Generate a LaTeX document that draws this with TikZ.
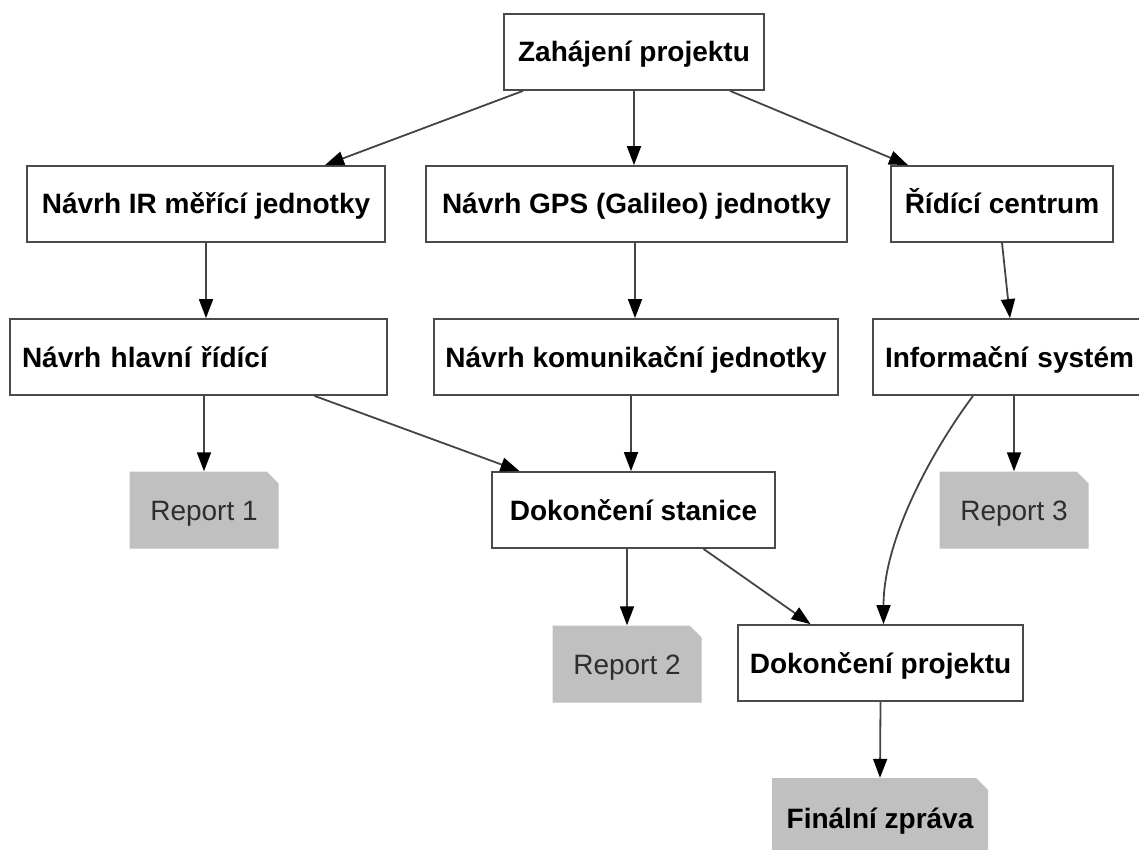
\documentclass[tikz,border=0pt]{standalone}
\usepackage{fontspec}
\setmainfont{Liberation Sans}
\usetikzlibrary{arrows.meta}
\definecolor{boxline}{HTML}{4A4A4A}
\definecolor{edgeline}{HTML}{444444}
\definecolor{repgray}{HTML}{C0C0C0}
\definecolor{reptext}{HTML}{2E2E2E}
\begin{document}
\begin{tikzpicture}[x=1pt,y=-1pt,
  task/.style={rectangle, draw=boxline, line width=1.8pt, fill=white,
    minimum height=76pt, inner sep=0pt, text height=26pt, text depth=6pt,
    font=\fontsize{28}{34}\selectfont\bfseries, text=black},
  lefttask/.style={task, align=left, inner xsep=12pt},
  report/.style={rectangle, fill=white, minimum height=77pt, inner sep=0pt,
    text height=26pt, text depth=6pt,
    font=\fontsize{28}{34}\selectfont, text=reptext,
    path picture={\fill[repgray] (path picture bounding box.south west)
      -- (path picture bounding box.north west)
      -- ([xshift=-12pt]path picture bounding box.north east)
      -- ([yshift=-12pt]path picture bounding box.north east)
      -- (path picture bounding box.south east) -- cycle;}},
  flow/.style={draw=edgeline, line width=1.8pt,
    -{Triangle[length=19pt,width=14pt,color=black]}}
]
\useasboundingbox (0,0) rectangle (1139,850);
\clip (0,0) rectangle (1139,850);

% row 0
\node[task, minimum width=260pt] (zah) at (634,52) {Zahájení projektu};
% row 1
\node[task, minimum width=358pt] (ir) at (206,204) {Návrh IR měřící jednotky};
\node[task, minimum width=421pt] (gps) at (636.5,204) {Návrh GPS (Galileo) jednotky};
\node[task, minimum width=222pt] (rc) at (1002,204) {Řídící centrum};
% row 2
\node[lefttask, text width=353pt] (hl) at (198.5,357) {Návrh hlavní řídící};
\node[task, minimum width=404pt] (kom) at (636,357) {Návrh komunikační jednotky};
\node[lefttask, text width=254pt] (info) at (1012,357) {Informační systém};
% row 3
\node[report, minimum width=149pt] (r1) at (204,510) {Report 1};
\node[task, minimum width=283pt] (ds) at (633.5,510) {Dokončení stanice};
\node[report, minimum width=149pt] (r3) at (1014,510) {Report 3};
% row 4
\node[report, minimum width=149pt] (r2) at (627,664) {Report 2};
\node[task, minimum width=285pt] (dp) at (880.5,663) {Dokončení projektu};
% row 5
\node[report, minimum width=216pt, minimum height=80pt, text=black,
      font=\fontsize{28}{34}\selectfont\bfseries] (fz) at (880,818) {Finální zpráva};

% connectors
\draw[flow] ([xshift=-111pt]zah.south) -- ([xshift=119pt]ir.north);
\draw[flow] (zah.south) -- (zah.south |- gps.north);
\draw[flow] ([xshift=96pt]zah.south) -- ([xshift=-94pt]rc.north);
\draw[flow] (ir.south) -- (ir.south |- hl.north);
\draw[flow] ([xshift=-1.5pt]gps.south) -- ([xshift=-1.5pt]gps.south |- kom.north);
\draw[flow] (rc.south) -- ([xshift=-2pt]info.north);
\draw[flow] (r1.north |- hl.south) -- (r1.north);
\draw[flow] ([xshift=116pt]hl.south) -- ([xshift=-114pt]ds.north);
\draw[flow] ([xshift=-5pt]kom.south) -- ([xshift=-5pt]kom.south |- ds.north);
\draw[flow] ([xshift=-39pt]info.south) .. controls ([xshift=-80pt,yshift=-55pt]info.south) and ([xshift=3pt,yshift=85pt]dp.north) .. ([xshift=3pt]dp.north);
\draw[flow] (r3.north |- info.south) -- (r3.north);
\draw[flow] (r2.north |- ds.south) -- (r2.north);
\draw[flow] ([xshift=70pt]ds.south) -- ([xshift=-70pt]dp.north);
\draw[flow] (dp.south) -- (fz.north);
\end{tikzpicture}
\end{document}
